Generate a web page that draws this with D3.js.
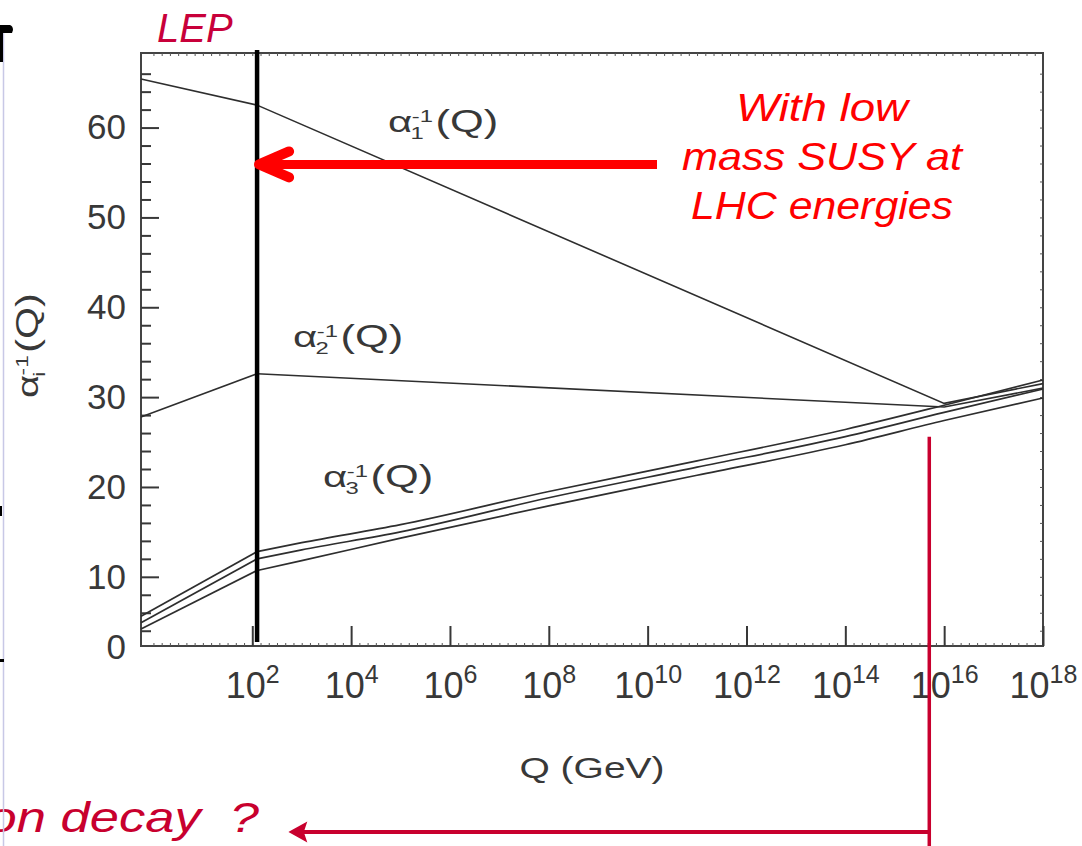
<!DOCTYPE html>
<html>
<head>
<meta charset="utf-8">
<script src="https://cdn.jsdelivr.net/npm/d3@7"></script>
<style>
  body { margin: 0; background: #fff; }
  svg { display: block; }
  text { font-family: "Liberation Sans", Arial, sans-serif; }
</style>
</head>
<body>
<svg width="1082" height="846"></svg>
<script>
// tick values
var qTicks = [1e2, 1e4, 1e6, 1e8, 1e10, 1e12, 1e14, 1e16, 1e18];
var qTickExp = ["2", "4", "6", "8", "10", "12", "14", "16", "18"];
var yMajor = [10, 20, 30, 40, 50, 60];
var yMinor = [4, 6, 8, 12, 14, 16, 18, 22, 24, 26, 28, 32, 34, 36, 38, 42, 44, 46, 48, 52, 54, 56, 58, 62, 64, 66];

// inverse couplings
var alpha1Q = [0.56, 125, 1e16, 1e18];
var alpha1 = [65.4, 62.5, 29.3, 31.5];
var alpha2Q = [0.56, 125, 1e16, 1e18];
var alpha2 = [27.8, 32.6, 28.9, 31.0];
var alpha3Q = [0.56, 125, 1e3, 1e5, 1e8, 1e11, 1e14, 1e16, 1e18];
var alpha3Hi = [5.6, 12.8, 13.8, 15.8, 19.5, 22.9, 26.4, 29.1, 31.9];
var alpha3Mid = [4.9, 12.0, 13.0, 15.0, 18.8, 22.2, 25.6, 28.3, 30.9];
var alpha3Lo = [4.2, 10.7, 11.8, 14.3, 17.9, 21.3, 24.7, 27.4, 29.9];

// annotation anchors
var lepQ = 125;
var susyArrowVal = 55.9;
var gutQ = 5e15;
var gutVal = 25.6;

(function () {
  var svg = d3.select("svg");
  var mLeft = 141, mRight = 1043, mTop = 53, mBottom = 646;

  var x = d3.scaleLog().domain([0.56, 1e18]).range([mLeft, mRight]);
  var y = d3.scaleLinear().domain([2.3, 68.3]).range([mBottom, mTop]);

  var ink = "#383838";

  // frame
  svg.append("rect")
    .attr("x", mLeft).attr("y", mTop)
    .attr("width", mRight - mLeft).attr("height", mBottom - mTop)
    .attr("fill", "none").attr("stroke", "#444").attr("stroke-width", 2);

  // small ticks on the frame
  var minorQ = [];
  for (var e = 0; e < 18; e += 1 / 6) minorQ.push(Math.pow(10, e));
  minorQ = minorQ.filter(function (q) { return q > 0.6 && q < 0.99e18; });

  function plain(g) { g.select(".domain").remove(); g.selectAll("line").attr("stroke", "#555"); }
  svg.append("g").attr("transform", "translate(0," + mBottom + ")")
    .call(d3.axisBottom(x).tickValues(minorQ).tickSize(-3).tickFormat("")).call(plain);
  svg.append("g").attr("transform", "translate(0," + mTop + ")")
    .call(d3.axisTop(x).tickValues(minorQ).tickSize(-3).tickFormat("")).call(plain);
  svg.append("g").attr("transform", "translate(" + mRight + ",0)")
    .call(d3.axisRight(y).tickValues(yMinor.concat(yMajor)).tickSize(-3).tickFormat("")).call(plain);

  // x axis major ticks + labels
  var xAxis = svg.append("g").attr("transform", "translate(0," + mBottom + ")")
    .call(d3.axisBottom(x).tickValues(qTicks).tickSize(-20).tickFormat(""));
  xAxis.select(".domain").remove();
  xAxis.selectAll("line").attr("stroke", ink).attr("stroke-width", 2);
  xAxis.selectAll(".tick text").remove();
  xAxis.selectAll(".tick").each(function (d, i) {
    var t = d3.select(this).append("text")
      .attr("y", 52).attr("text-anchor", "middle")
      .attr("fill", ink).attr("font-size", 36);
    t.append("tspan").text("10");
    t.append("tspan").attr("font-size", 25).attr("dy", -15).text(qTickExp[i]);
  });

  // y axis
  var yAxis = svg.append("g").attr("transform", "translate(" + mLeft + ",0)")
    .call(d3.axisLeft(y).tickValues(yMajor).tickSize(-18).tickPadding(15));
  yAxis.select(".domain").remove();
  yAxis.selectAll("line").attr("stroke", ink).attr("stroke-width", 2);
  yAxis.selectAll("text").attr("font-size", 35).attr("fill", ink)
    .attr("font-family", "'Liberation Sans', Arial, sans-serif");
  svg.append("g").attr("transform", "translate(" + mLeft + ",0)")
    .call(d3.axisLeft(y).tickValues(yMinor).tickSize(-10).tickFormat(""))
    .call(function (g) { g.select(".domain").remove(); g.selectAll("line").attr("stroke", ink).attr("stroke-width", 2); });
  // zero label sits at the bottom edge
  svg.append("text")
    .attr("x", mLeft - 15).attr("y", y.range()[0] + 2).attr("dy", "0.32em")
    .attr("text-anchor", "end").attr("font-size", 35).attr("fill", ink).text("0");

  // curves: straight up to the SUSY threshold; alpha3 runs smoothly above it
  var lineStraight = d3.line().x(function (d) { return x(d[0]); }).y(function (d) { return y(d[1]); });
  var lineSmooth = d3.line().x(function (d) { return x(d[0]); }).y(function (d) { return y(d[1]); })
    .curve(d3.curveMonotoneX);
  function drawCurve(qs, vals, w, smooth) {
    var pts = qs.map(function (q, i) { return [q, vals[i]]; });
    var k = qs.indexOf(lepQ);
    [[pts.slice(0, k + 1), lineStraight], [pts.slice(k), smooth ? lineSmooth : lineStraight]].forEach(function (part) {
      svg.append("path")
        .datum(part[0])
        .attr("d", part[1]).attr("fill", "none")
        .attr("stroke", "#2e2e2e").attr("stroke-width", w);
    });
  }
  drawCurve(alpha1Q, alpha1, 1.6, false);
  drawCurve(alpha2Q, alpha2, 1.6, false);
  drawCurve(alpha3Q, alpha3Hi, 1.7, true);
  drawCurve(alpha3Q, alpha3Mid, 1.7, true);
  drawCurve(alpha3Q, alpha3Lo, 1.7, true);

  // alpha labels: wide font, so stretch along the writing direction
  function alphaLabel(transform, sub) {
    var g = svg.append("g").attr("transform", transform).attr("fill", ink);
    g.append("text").attr("font-size", 30).text("\u03B1");
    g.append("text").attr("x", 17).attr("y", -10).attr("font-size", 17).text("-1");
    g.append("text").attr("x", 16).attr("y", 7).attr("font-size", 17).text(sub);
    g.append("text").attr("x", 34).attr("font-size", 31).text("(Q)");
  }
  alphaLabel("translate(388,132) scale(1.4,1)", "1");
  alphaLabel("translate(293,347) scale(1.4,1)", "2");
  alphaLabel("translate(323,487) scale(1.4,1)", "3");
  alphaLabel("translate(38,398) rotate(-90) scale(1.33,1)", "i");

  // axis title
  svg.append("text")
    .attr("transform", "translate(" + (mLeft + mRight) / 2 + ",778) scale(1.3,1)")
    .attr("text-anchor", "middle").attr("font-size", 30).attr("fill", ink)
    .text("Q (GeV)");

  // LEP line
  svg.append("line")
    .attr("x1", x(lepQ)).attr("x2", x(lepQ)).attr("y1", 50).attr("y2", 642)
    .attr("stroke", "#000").attr("stroke-width", 4.5);
  svg.append("text")
    .attr("x", x(lepQ) - 100).attr("y", 42)
    .attr("font-size", 40).attr("font-style", "italic").attr("fill", "#c8003a")
    .text("LEP");

  // red arrow towards LEP
  var ay = y(susyArrowVal), ax = x(lepQ) + 2;
  svg.append("line")
    .attr("x1", 657).attr("x2", ax + 4).attr("y1", ay).attr("y2", ay)
    .attr("stroke", "#ff0000").attr("stroke-width", 9);
  svg.append("path")
    .attr("d", "M" + (ax + 30) + "," + (ay - 13) + "L" + ax + "," + ay + "L" + (ax + 30) + "," + (ay + 13))
    .attr("fill", "none").attr("stroke", "#ff0000").attr("stroke-width", 10)
    .attr("stroke-linecap", "round").attr("stroke-linejoin", "round");

  var susyLines = ["With low", "mass SUSY at", "LHC energies"];
  var susyWidths = [172, 280, 262];
  svg.append("g").selectAll("text").data(susyLines).enter().append("text")
    .attr("x", 822).attr("y", function (d, i) { return 121 + i * 49; })
    .attr("text-anchor", "middle")
    .attr("font-family", "'DejaVu Sans', sans-serif")
    .attr("font-style", "italic").attr("font-size", 38).attr("fill", "#ff0000")
    .attr("textLength", function (d, i) { return susyWidths[i]; })
    .attr("lengthAdjust", "spacingAndGlyphs")
    .text(function (d) { return d; });

  // proton decay arrow
  var gx = x(gutQ);
  svg.append("line")
    .attr("x1", gx).attr("x2", gx).attr("y1", y(gutVal)).attr("y2", 846)
    .attr("stroke", "#c8002e").attr("stroke-width", 3.5);
  svg.append("line")
    .attr("x1", gx + 1.5).attr("x2", 300).attr("y1", 832).attr("y2", 832)
    .attr("stroke", "#c8002e").attr("stroke-width", 4);
  svg.append("path")
    .attr("d", "M290,832L306,823L303,832L306,841Z")
    .attr("fill", "#c8002e").attr("stroke", "#c8002e").attr("stroke-width", 1.5);
  svg.append("text")
    .attr("transform", "translate(259,832) scale(1.25,1)")
    .attr("text-anchor", "end")
    .attr("font-family", "'DejaVu Sans', sans-serif")
    .attr("font-style", "italic").attr("font-size", 42).attr("fill", "#c8002e")
    .style("white-space", "pre")
    .text("proton decay  ?");

  // slide edge remnants
  svg.append("line").attr("x1", 3.5).attr("x2", 3.5).attr("y1", 30).attr("y2", 846)
    .attr("stroke", "#c8c8e6").attr("stroke-width", 1.5);
  svg.append("path").attr("d", "M0,25L10,25Q13,26 13,30L12,33L3,33L3,62L0,62Z").attr("fill", "#000");
  svg.append("rect").attr("x", 0).attr("y", 506).attr("width", 2).attr("height", 10).attr("fill", "#000");
  svg.append("rect").attr("x", 0).attr("y", 659).attr("width", 4).attr("height", 3).attr("fill", "#000");
})();
</script>
</body>
</html>
